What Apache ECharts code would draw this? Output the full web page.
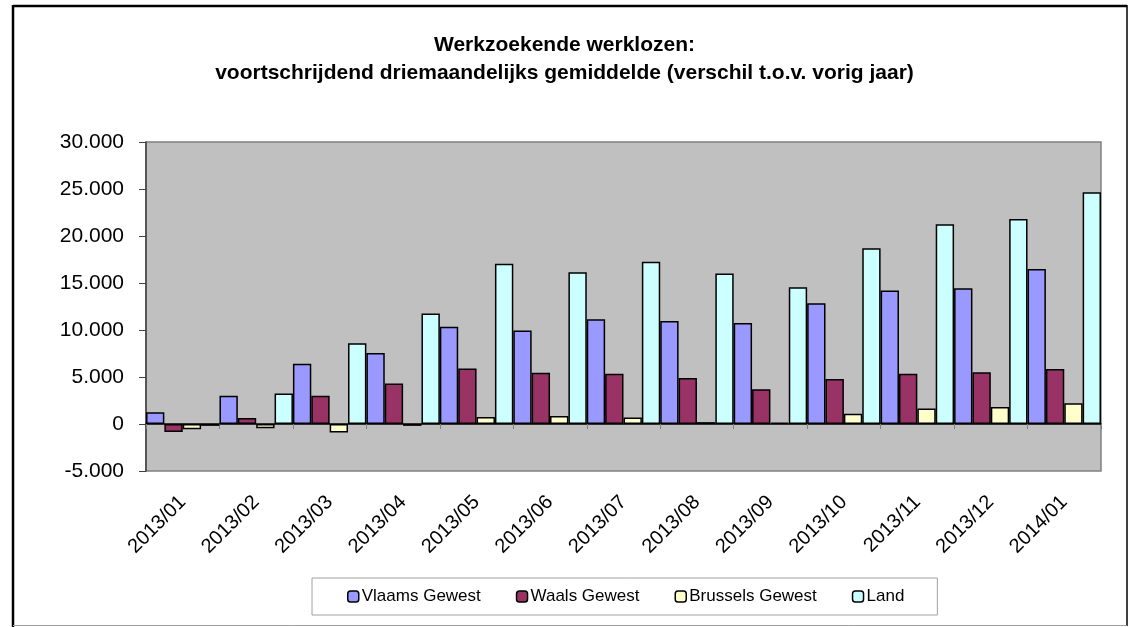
<html lang="nl">
<head>
    <meta charset="UTF-8">
    <title>Werkzoekende werklozen</title>
    <style>
        html, body { margin: 0; padding: 0; background: #fff; }
    </style>
</head>
<body>
    <div id="container" style="width:1129px;height:627px"></div>

    <script src="https://cdn.jsdelivr.net/npm/echarts@6/dist/echarts.min.js"></script>
    <script>
        var months = ['2013/01', '2013/02', '2013/03', '2013/04', '2013/05', '2013/06', '2013/07',
                      '2013/08', '2013/09', '2013/10', '2013/11', '2013/12', '2014/01'];
        var vlaams = [1250, 3000, 6400, 7550, 10350, 9950, 11150, 10950, 10750, 12850, 14200, 14450, 16500];
        var waals = [-850, 650, 3000, 4300, 5900, 5450, 5350, 4900, 3700, 4800, 5350, 5500, 5850];
        var brussels = [-550, -450, -900, -200, 750, 850, 700, 200, 150, 1100, 1650, 1800, 2200];
        var land = [-200, 3250, 8600, 11750, 17050, 16150, 17250, 16000, 14550, 18700, 21250, 21800, 24650];
        var seriesNames = ['Vlaams Gewest', 'Waals Gewest', 'Brussels Gewest', 'Land'];

        var font = "'Liberation Sans', Arial, sans-serif";

        function fmt(v) {
            var s = String(Math.abs(v)).replace(/\B(?=(\d{3})+(?!\d))/g, '.');
            return v < 0 ? '-' + s : s;
        }

        function bar(name, data, color) {
            return {
                name: name,
                type: 'bar',
                data: data,
                barGap: 0,
                barCategoryGap: 0,
                itemStyle: { color: color, borderColor: '#000', borderWidth: 1.5 },
                emphasis: { disabled: true }
            };
        }

        var myChart = echarts.init(document.getElementById('container'));
        var option = {
            backgroundColor: '#fff',
            animation: false,
            textStyle: { fontFamily: font },
            title: {
                text: 'Werkzoekende werklozen:\nvoortschrijdend driemaandelijks gemiddelde (verschil t.o.v. vorig jaar)',
                left: 'center',
                top: 26,
                textStyle: { fontSize: 21, fontWeight: 'bold', color: '#000', lineHeight: 28, fontFamily: font }
            },
            legend: {
                data: seriesNames,
                left: 312,
                top: 578,
                orient: 'horizontal',
                padding: [10, 33, 10, 35],
                itemGap: 35,
                itemWidth: 11,
                itemHeight: 11,
                borderColor: '#a0a0a0',
                borderWidth: 1,
                selectedMode: false,
                textStyle: { fontSize: 17, color: '#000', padding: [0, 0, 0, -2] },
                itemStyle: { borderColor: '#000', borderWidth: 1.5 }
            },
            graphic: [
                { type: 'line', shape: { x1: 13, y1: 6, x2: 1127, y2: 6 }, style: { stroke: '#000', lineWidth: 2.5 } },
                { type: 'line', shape: { x1: 13, y1: 5, x2: 13, y2: 627 }, style: { stroke: '#000', lineWidth: 2.5 } },
                { type: 'line', shape: { x1: 1127, y1: 5, x2: 1127, y2: 626 }, style: { stroke: '#000', lineWidth: 1.5 } },
                { type: 'line', shape: { x1: 13, y1: 625.5, x2: 1127, y2: 625.5 }, style: { stroke: '#a0a0a0', lineWidth: 1 } }
            ],
            grid: {
                left: 146,
                top: 142,
                right: 28,
                bottom: 156,
                show: true,
                backgroundColor: '#c0c0c0',
                borderColor: '#808080',
                borderWidth: 1.5
            },
            xAxis: [{
                type: 'category',
                data: months,
                position: 'bottom',
                axisLine: { onZero: true, lineStyle: { color: '#000', width: 1.5 } },
                axisTick: { show: true, interval: 0, length: 5, lineStyle: { color: '#808080' } },
                axisLabel: { show: false }
            }, {
                type: 'category',
                data: months,
                position: 'bottom',
                axisLine: { show: false, onZero: false },
                axisTick: { show: false },
                axisLabel: { interval: 0, rotate: 45, margin: 28, fontSize: 20, color: '#000', fontFamily: font }
            }],
            yAxis: {
                type: 'value',
                min: -5000,
                max: 30000,
                interval: 5000,
                axisLine: { show: true, lineStyle: { color: '#404040', width: 1.5 } },
                axisTick: { show: true, length: 7, lineStyle: { color: '#404040' } },
                splitLine: { show: false },
                axisLabel: { formatter: fmt, fontSize: 21, color: '#000', margin: 22, fontFamily: font }
            },
            series: [
                bar(seriesNames[0], vlaams, '#9999ff'),
                bar(seriesNames[1], waals, '#993366'),
                bar(seriesNames[2], brussels, '#ffffcc'),
                bar(seriesNames[3], land, '#ccffff')
            ]
        };
        myChart.setOption(option);
    </script>
</body>
</html>
